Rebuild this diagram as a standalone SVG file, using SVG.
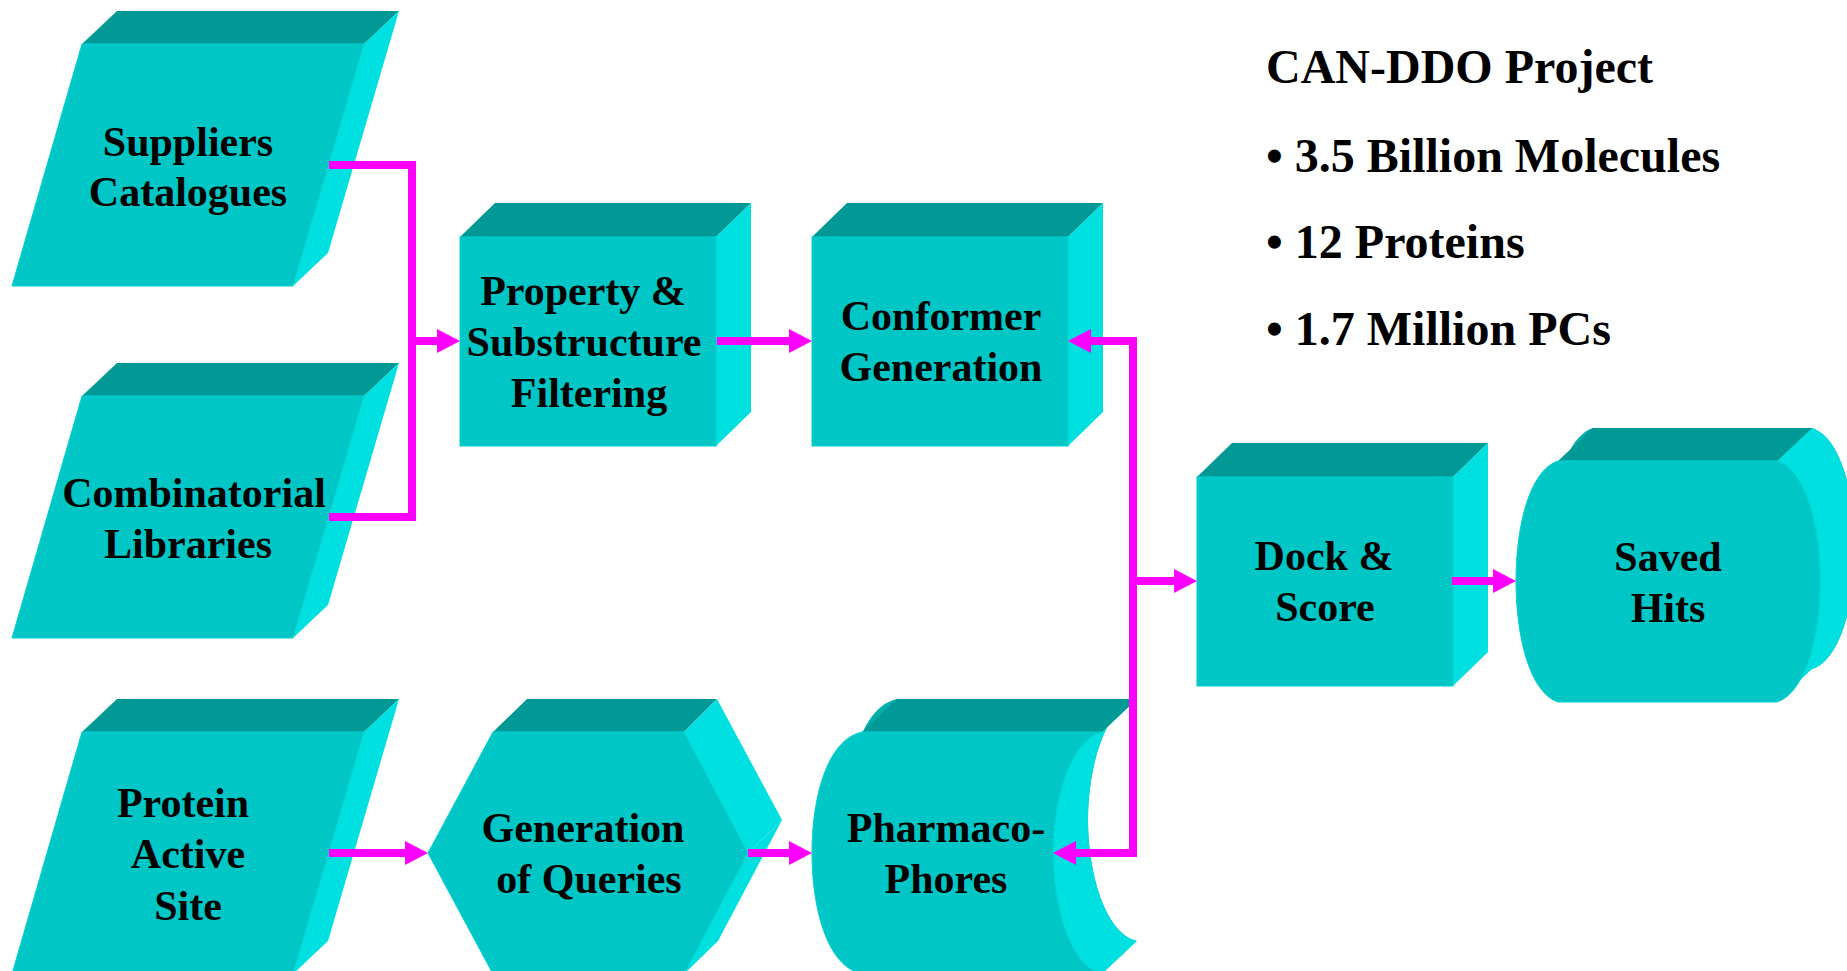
<svg xmlns="http://www.w3.org/2000/svg" width="1847" height="971" viewBox="0 0 1847 971">
<style>
.top{fill:#009996}
.back{fill:#00AEAC}
.front{fill:#00C6C6;stroke:#00D2D2;stroke-width:1}
.side{fill:#00E0E0}
.lbl{font-family:"Liberation Serif","Times New Roman",serif;font-weight:bold;font-size:42px;text-anchor:middle;fill:#000}
.info{font-family:"Liberation Serif","Times New Roman",serif;font-weight:bold;font-size:48px;fill:#000}
.conn{stroke:#FF00FF;stroke-width:8;fill:none;stroke-linejoin:miter}
.arr{marker-end:url(#ah)}
</style>
<defs>
<marker id="ah" markerUnits="userSpaceOnUse" viewBox="0 0 23 24" markerWidth="23" markerHeight="24" refX="3" refY="12" orient="auto-start-reverse">
<path d="M0,0 L23,12 L0,24 Z" fill="#FF00FF"/>
</marker>
<g id="para">
<polygon class="top" points="82,44 117,11 399,11 364,44"/>
<polygon class="side" points="364,44 399,11 328,253 293,286"/>
<polygon class="front" points="82,44 364,44 293,286 12,286"/>
</g>
<g id="box">
<polygon class="top" points="0,0 35,-34 291,-34 256,0"/>
<polygon class="side" points="256,0 291,-34 291,175 256,209"/>
<rect class="front" x="0" y="0" width="256" height="209"/>
</g>
</defs>

<g id="n-suppliers">
<use href="#para"/>
<text class="lbl" x="188" y="156">Suppliers</text>
<text class="lbl" x="188" y="206">Catalogues</text>
</g>

<g id="n-combinatorial">
<use href="#para" transform="translate(0,352)"/>
<text class="lbl" x="194" y="507">Combinatorial</text>
<text class="lbl" x="188" y="558">Libraries</text>
</g>

<g id="n-protein">
<use href="#para" transform="translate(0,688)"/>
<text class="lbl" x="183" y="817">Protein</text>
<text class="lbl" x="188" y="868">Active</text>
<text class="lbl" x="188" y="920">Site</text>
</g>

<g id="n-property">
<use href="#box" transform="translate(460,237)"/>
<text class="lbl" x="583" y="305">Property &amp;</text>
<text class="lbl" x="584" y="356">Substructure</text>
<text class="lbl" x="589" y="407">Filtering</text>
</g>

<g id="n-conformer">
<use href="#box" transform="translate(812,237)"/>
<text class="lbl" x="941" y="330">Conformer</text>
<text class="lbl" x="941" y="381">Generation</text>
</g>

<g id="n-queries">
<polygon class="top" points="493,732 527,699 717,699 684,732"/>
<polygon class="side" points="684,732 717,699 782,820 748,853"/>
<polygon class="side" points="748,853 782,820 718,941 684,974"/>
<polygon class="front" points="428,853 493,732 684,732 748,853 684,974 493,974"/>
<text class="lbl" x="583" y="842">Generation</text>
<text class="lbl" x="589" y="893">of Queries</text>
</g>

<g id="n-pharmaco">
<path class="back" transform="translate(35,-33)" d="M862,732 H1102 C1070,740 1053,800 1053,853 C1053,906 1070,966 1102,974 H862 C826,966 812,906 812,853 C812,800 826,740 862,732 Z"/>
<path class="side" d="M1102,732 C1070,740 1053,800 1053,853 C1053,906 1070,966 1102,974 L1137,941 C1105,933 1088,873 1088,820 C1088,767 1105,707 1137,699 Z"/>
<polygon class="top" points="862,732 897,699 1137,699 1102,732"/>
<path class="front" d="M862,732 H1102 C1070,740 1053,800 1053,853 C1053,906 1070,966 1102,974 H862 C826,966 812,906 812,853 C812,800 826,740 862,732 Z"/>
<text class="lbl" x="946" y="842">Pharmaco-</text>
<text class="lbl" x="946" y="893">Phores</text>
</g>

<g id="n-dock">
<use href="#box" transform="translate(1197,477)"/>
<text class="lbl" x="1324" y="570">Dock &amp;</text>
<text class="lbl" x="1325" y="621">Score</text>
</g>

<g id="n-saved">
<path class="back" transform="translate(35,-33)" d="M1558,461 H1777 C1805,470 1820,525 1820,581 C1820,637 1805,693 1777,702 H1558 C1530,693 1516,637 1516,581 C1516,525 1530,470 1558,461 Z"/>
<path class="side" d="M1777,461 C1805,470 1820,525 1820,581 C1820,637 1805,693 1777,702 L1812,669 C1840,660 1855,604 1855,548 C1855,492 1840,437 1812,428 Z"/>
<polygon class="top" points="1558,461 1593,428 1812,428 1777,461"/>
<path class="front" d="M1558,461 H1777 C1805,470 1820,525 1820,581 C1820,637 1805,693 1777,702 H1558 C1530,693 1516,637 1516,581 C1516,525 1530,470 1558,461 Z"/>
<text class="lbl" x="1668" y="571">Saved</text>
<text class="lbl" x="1668" y="622">Hits</text>
</g>

<g id="info">
<text class="info" x="1266" y="83">CAN-DDO Project</text>
<text class="info" x="1266" y="172">• 3.5 Billion Molecules</text>
<text class="info" x="1266" y="258">• 12 Proteins</text>
<text class="info" x="1266" y="345">• 1.7 Million PCs</text>
</g>

<g id="connectors">
<path class="conn" d="M329,165 H412 V517 H329"/>
<path class="conn arr" d="M412,341 H440"/>
<path class="conn arr" d="M717,341 H792"/>
<path class="conn" d="M1088,341 H1133 V853 H1073" marker-start="url(#ah)" marker-end="url(#ah)"/>
<path class="conn arr" d="M1133,581 H1177"/>
<path class="conn arr" d="M1452,581 H1496"/>
<path class="conn arr" d="M329,853 H408"/>
<path class="conn arr" d="M748,853 H792"/>
</g>
</svg>
